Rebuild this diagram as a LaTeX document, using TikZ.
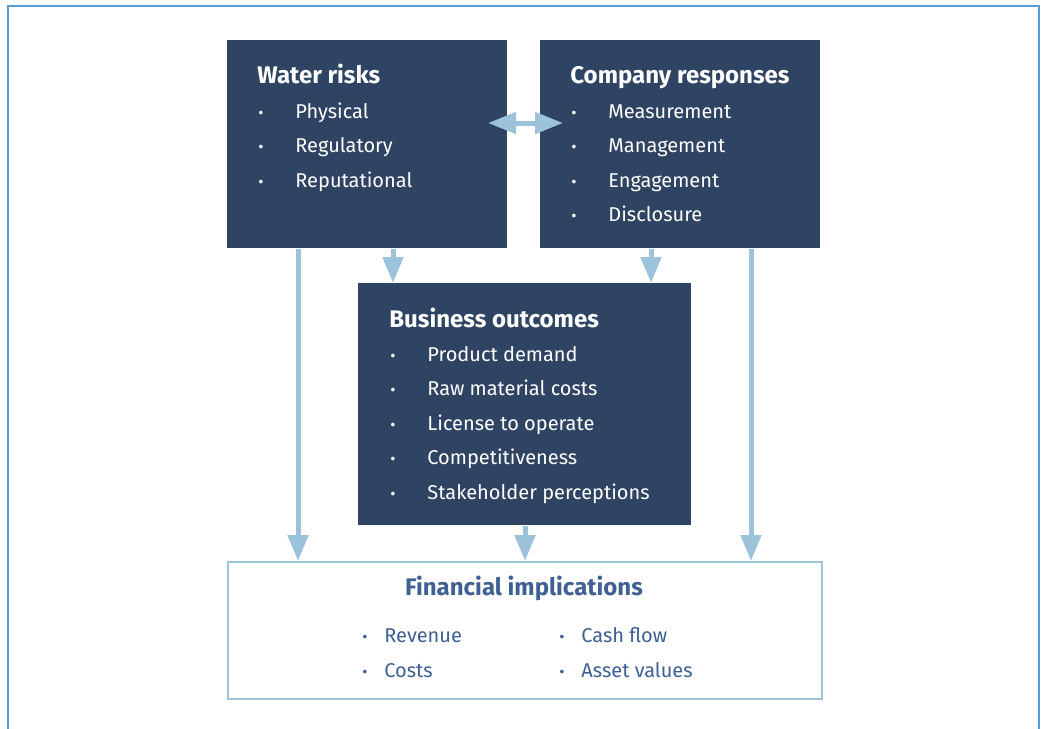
\documentclass[tikz,border=0pt]{standalone}
\usepackage{fontspec}
\setmainfont{Fira Sans}
\usetikzlibrary{arrows.meta}

\definecolor{navy}{HTML}{2F4462}
\definecolor{arrowblue}{HTML}{9DC3DA}
\definecolor{frameblue}{HTML}{5B9BD5}
\definecolor{fintext}{HTML}{3F6092}

\begin{document}
\begin{tikzpicture}[x=0.5pt,y=-0.5pt,
    darkbox/.style={fill=navy, draw=none, anchor=north west, inner sep=0pt},
    finbox/.style={fill=white, draw=arrowblue, line width=0.75pt, anchor=north west, inner sep=0pt},
    head/.style={anchor=base west, text=white, inner sep=0pt, font=\bfseries\fontsize{12}{14}\selectfont},
    item/.style={anchor=base west, text=white, inner sep=0pt, font=\fontsize{10}{12}\selectfont},
    dot/.style={anchor=base, text=white, inner sep=0pt, font=\fontsize{8}{10}\selectfont},
    flow/.style={draw=arrowblue, line width=2.5pt, -{Triangle[width=10pt,length=13pt]}}]
    \useasboundingbox (0,0) rectangle (1041,729);

    % --- Frame ---
    \draw[frameblue, line width=0.8pt] (8,735) -- (8,6) -- (1039,6) -- (1039,735);

    % --- Boxes ---
    \node[darkbox, minimum width=140pt, minimum height=104pt] (wr) at (227,40) {};
    \node[darkbox, minimum width=140pt, minimum height=104pt] (cr) at (540,40) {};
    \node[darkbox, minimum width=166.5pt, minimum height=121pt] (bo) at (358,283) {};
    \node[finbox, minimum width=297pt, minimum height=68.5pt] (fin) at (227,561) {};

    % --- Water risks ---
    \node[head] (wrh) at (257,83) {Water risks};
    \foreach \i / \txt in {1/Physical,2/Regulatory,3/Reputational}{
        \node[dot] (wrd\i) at (261,{118+34.5*(\i-1)}) {•};
        \node[item] (wrt\i) at (295,{118+34.5*(\i-1)}) {\txt};
    }

    % --- Company responses ---
    \node[head] (crh) at (570,83) {Company responses};
    \foreach \i / \txt in {1/Measurement,2/Management,3/Engagement,4/Disclosure}{
        \node[dot] (crd\i) at (574,{118+34.5*(\i-1)}) {•};
        \node[item] (crt\i) at (608,{118+34.5*(\i-1)}) {\txt};
    }

    % --- Business outcomes ---
    \node[head] (boh) at (389,327) {Business outcomes};
    \foreach \i / \txt in {1/Product demand,2/Raw material costs,3/License to operate,4/Competitiveness,5/Stakeholder perceptions}{
        \node[dot] (bod\i) at (393,{361+34.5*(\i-1)}) {•};
        \node[item] (bot\i) at (427,{361+34.5*(\i-1)}) {\txt};
    }

    % --- Financial implications ---
    \node[head, anchor=base, text=fintext] (finh) at (524,595) {Financial implications};
    \foreach \i / \txt / \xd / \yb in {1/Revenue/365/642,2/Costs/365/677,3/Cash flow/562/642,4/Asset values/562/677}{
        \node[dot, text=fintext] (find\i) at (\xd,\yb) {•};
        \node[item, text=fintext] (fint\i) at (\xd+19,\yb) {\txt};
    }

    % --- Arrows ---
    \coordinate (colA) at (298,0);
    \coordinate (colB) at (393,0);
    \coordinate (colC) at (525,0);
    \coordinate (colD) at (651,0);
    \coordinate (colE) at (751,0);
    \coordinate (dl) at (488,123);
    \coordinate (dr) at (563,123);
    \draw[flow] (wr.south -| colA) -- (fin.north -| colA);
    \draw[flow] (wr.south -| colB) -- (bo.north -| colB);
    \draw[flow] (cr.south -| colD) -- (bo.north -| colD);
    \draw[flow] (cr.south -| colE) -- (fin.north -| colE);
    \draw[flow] (bo.south -| colC) -- (fin.north -| colC);
    \draw[flow, {Triangle[width=10.5pt,length=14pt]}-{Triangle[width=10.5pt,length=14pt]}] (dl) -- (dr);
\end{tikzpicture}
\end{document}
